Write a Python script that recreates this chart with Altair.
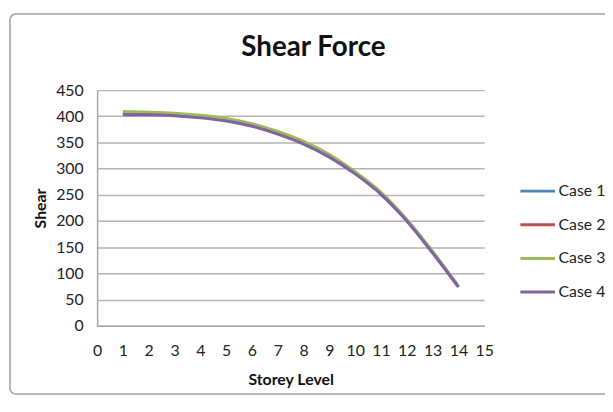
import altair as alt
import pandas as pd

storey = [1, 2, 3, 4, 5, 6, 7, 8, 9, 10, 11, 12, 13, 14]
case1 = [406, 405, 404, 400, 394, 384, 369, 350, 325, 292, 253, 202, 141, 75]
case2 = [405, 405, 403, 400, 393, 383, 368, 349, 324, 291, 252, 201, 140, 75]
case3 = [409, 408, 406, 402, 396, 386, 371, 352, 327, 294, 255, 203, 142, 75]
case4 = [403, 403, 401, 397, 391, 381, 366, 347, 322, 290, 251, 200, 139, 74]
series = ["Case 1", "Case 2", "Case 3", "Case 4"]
colors = ["#4F81BD", "#C0504D", "#9BBB59", "#8064A2"]

rows = []
for name, vals in zip(series, [case1, case2, case3, case4]):
    for s, v in zip(storey, vals):
        rows.append({"Storey Level": s, "Shear": v, "Case": name})
df = pd.DataFrame(rows)

FONT = "Lato"

lines = alt.Chart(df).mark_line(strokeWidth=3, interpolate="monotone").encode(
    x=alt.X("Storey Level:Q",
            scale=alt.Scale(domain=[0, 15], nice=False),
            axis=alt.Axis(values=list(range(0, 16)), grid=False, ticks=False,
                          labelOverlap=False, labelFlush=False,
                          domainColor="#a6a6a6", domainWidth=1.5,
                          labelFontSize=16, labelFont=FONT, labelColor="#222",
                          labelPadding=17, title="Storey Level", titleFont=FONT,
                          titleFontSize=16, titleFontWeight="bold", titleColor="#111",
                          titlePadding=13)),
    y=alt.Y("Shear:Q",
            scale=alt.Scale(domain=[0, 450], nice=False),
            axis=alt.Axis(values=list(range(0, 451, 50)), grid=True, gridColor="#b3b3b3",
                          gridWidth=1.5, ticks=False, domainColor="#a6a6a6",
                          labelOverlap=False, labelFlush=False,
                          domainWidth=1.5, labelFontSize=16, labelFont=FONT,
                          labelColor="#222", labelPadding=14, title="Shear",
                          titleFont=FONT, titleFontSize=16, titleFontWeight="bold",
                          titleColor="#111", titlePadding=7)),
    color=alt.Color("Case:N", scale=alt.Scale(domain=series, range=colors),
                    legend=alt.Legend(title=None, orient="none", legendX=426, legendY=83,
                                      symbolType="stroke", symbolSize=1225,
                                      symbolStrokeWidth=3, labelFontSize=16,
                                      labelFont=FONT, labelColor="#222",
                                      labelOffset=2, rowPadding=7)),
    order=alt.Order("Case:N"),
)

frame = alt.Chart(pd.DataFrame({"a": [0]})).mark_rect(
    fill="transparent", stroke="#a0a0a0", strokeWidth=1.5, cornerRadius=6, clip=False
).encode(x=alt.value(-88), x2=alt.value(1500), y=alt.value(-77), y2=alt.value(307))

chart = alt.layer(frame, lines).properties(
    width=391, height=238,
    title=alt.Title("Shear Force", font=FONT, fontSize=28, fontWeight="bold",
                    color="#111", anchor="middle", frame="group", dx=23,
                    offset=0, dy=49),
    autosize=alt.AutoSizeParams(type="none"),
    padding={"left": 90, "top": 81, "right": 122, "bottom": 70},
).configure_view(stroke=None)

chart.save("out.html", embed_options={"renderer": "svg", "actions": False})
